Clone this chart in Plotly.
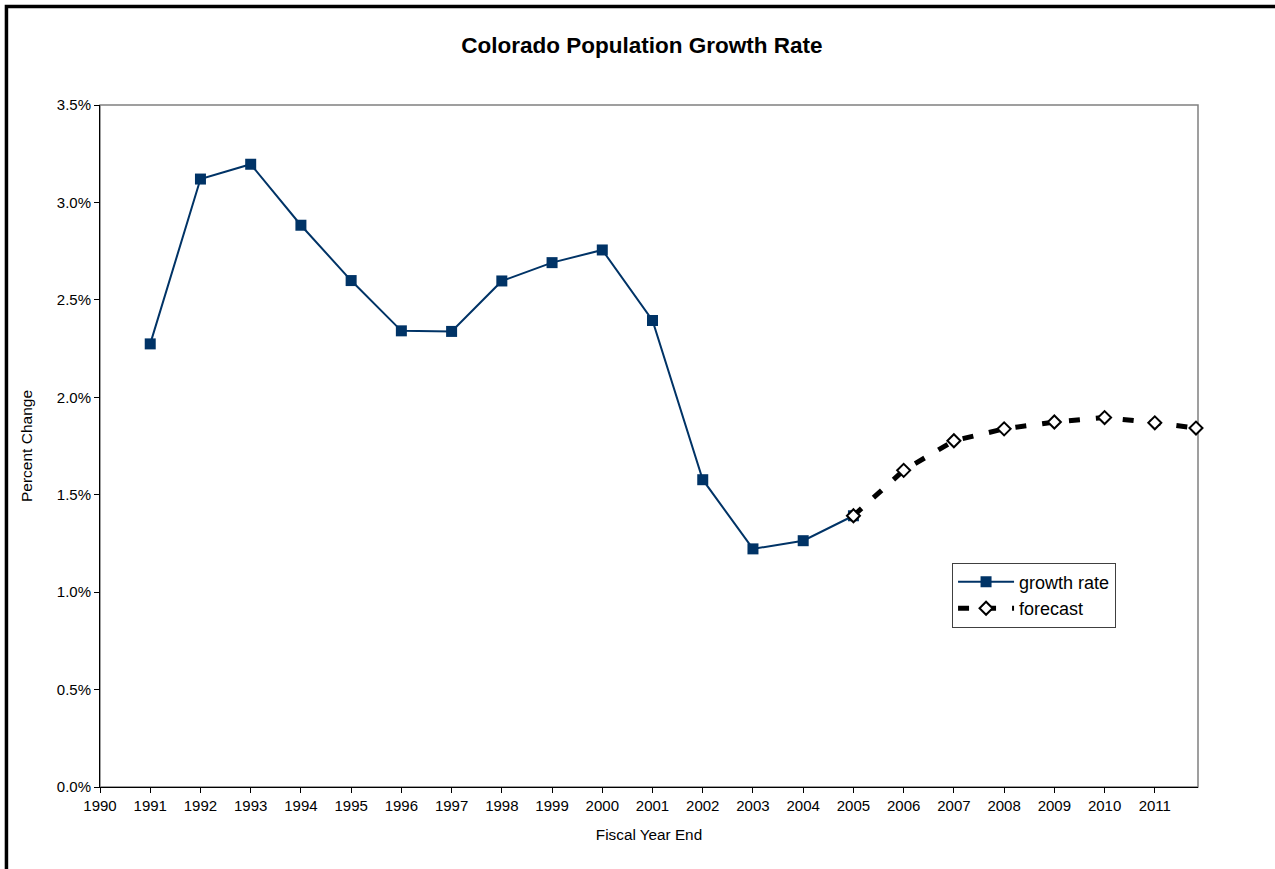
import plotly.graph_objects as go

years = [1991, 1992, 1993, 1994, 1995, 1996, 1997, 1998, 1999, 2000, 2001, 2002, 2003, 2004, 2005]
growth = [0.02274, 0.03120, 0.03196, 0.02883, 0.02599, 0.02341, 0.02338, 0.02597, 0.02691,
          0.02756, 0.02394, 0.01577, 0.01222, 0.01264, 0.01392]
fc_years = [2005, 2006, 2007, 2008, 2009, 2010, 2011, 2011.82]
forecast = [0.01392, 0.01625, 0.01777, 0.01838, 0.01873, 0.01896, 0.01869, 0.01842]
tick_years = list(range(1990, 2012))

FONT = "Liberation Sans, Arial, sans-serif"

fig = go.Figure()
fig.add_trace(go.Scatter(
    x=years, y=growth, name="growth rate", mode="lines+markers",
    line=dict(color="#003366", width=2),
    marker=dict(symbol="square", size=11, color="#003366"),
    cliponaxis=False,
))
fig.add_trace(go.Scatter(
    x=fc_years, y=forecast, name="forecast", mode="lines+markers",
    line=dict(color="black", width=5, dash="11px,16px"),
    marker=dict(symbol="diamond", size=10, color="white", line=dict(color="black", width=2)),
    cliponaxis=False,
))

fig.update_layout(
    width=1275, height=869,
    margin=dict(l=100, r=77, t=105, b=82),
    paper_bgcolor="white", plot_bgcolor="white",
    font=dict(family=FONT, color="black", size=15),
    title=dict(text="<b>Colorado Population Growth Rate</b>", xref="paper", x=0.4935, xanchor="center",
               y=0.948, yanchor="middle", font=dict(size=22.5, family=FONT)),
    showlegend=True,
    legend=dict(x=0.776, y=0.329, xanchor="left", yanchor="top",
                bgcolor="white", bordercolor="#404040", borderwidth=1,
                font=dict(size=18, family=FONT), tracegroupgap=0, itemwidth=56),
    xaxis=dict(range=[1990, 2011.86], tickvals=tick_years, ticktext=[str(y) for y in tick_years],
               showgrid=False, zeroline=False, showline=True, linecolor="black", linewidth=1,
               ticks="outside", ticklen=5, tickcolor="black",
               tickfont=dict(size=15),
               title=dict(text="Fiscal Year End", font=dict(size=15.3), standoff=16)),
    yaxis=dict(range=[0, 0.035], dtick=0.005, tickformat=".1%",
               showgrid=False, zeroline=False, showline=True, linecolor="black", linewidth=1,
               ticks="outside", ticklen=5, tickcolor="black",
               tickfont=dict(size=15),
               title=dict(text="Percent Change", font=dict(size=15.5), standoff=20)),
)

# grey plot-area frame (top & right)
fig.add_shape(type="rect", xref="paper", yref="paper", x0=0, y0=0, x1=1, y1=1,
              line=dict(color="#808080", width=1.5), layer="below")
# outer black chart border (top & left visible)
fig.add_shape(type="path", xref="paper", yref="paper",
              path="M -0.0852,-0.2 L -0.0852,1.1443 L 1.2,1.1443",
              line=dict(color="black", width=3.5))

fig.write_html("out.html", config={"displayModeBar": False},
               post_script="document.body.style.margin='0';document.body.style.overflow='hidden';")
